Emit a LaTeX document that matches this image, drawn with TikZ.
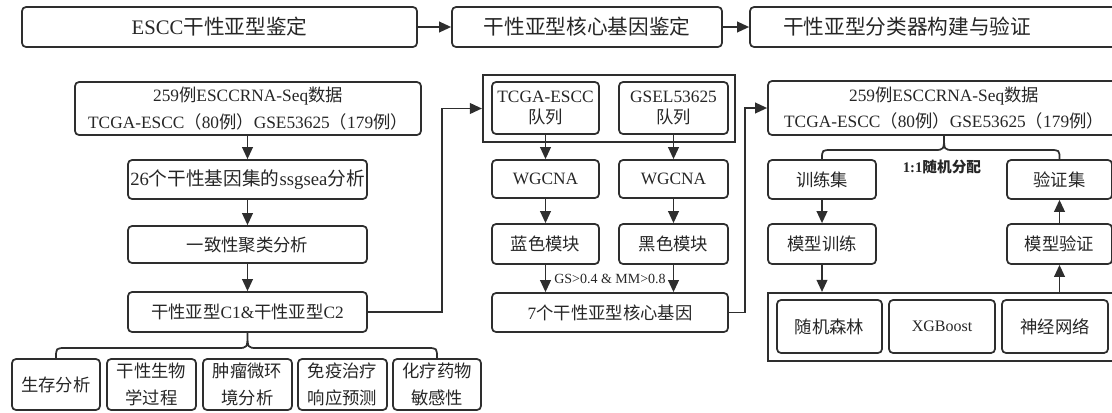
\documentclass[tikz,border=0pt]{standalone}
\usepackage{fontspec}
\setmainfont{Liberation Serif}
\newfontfamily\cjk{Noto Sans CJK SC}
\usetikzlibrary{arrows.meta}
\newcommand\zh[1]{{\cjk #1}}
\tikzset{
  ink/.style={draw=black!82},
  box/.style={ink, line width=1.3pt, rounded corners=3pt, inner sep=0pt, align=center, text=black!85},
  frame/.style={ink, line width=1.6pt, inner sep=0pt},
  sz/.style 2 args={minimum width=#1*0.75pt, minimum height=#2*0.75pt},
  arr/.style={ink, line width=1.3pt, -{Triangle[length=9pt,width=8pt]}},
  link/.style={ink, line width=1.3pt},
  big/.style={font=\fontsize{15.5}{18}\selectfont},
  mid/.style={font=\fontsize{13}{20}\selectfont},
  two/.style={font=\fontsize{13}{16}\selectfont},
}
\begin{document}
\begin{tikzpicture}[x=0.75pt,y=-0.75pt]
\path[use as bounding box, clip] (0,0) rectangle (1112,412);
% top row
\node[box,big,sz={395}{40}] (A) at (219.5,27) {ESCC\zh{干性亚型鉴定}};
\node[box,big,sz={270}{40}] (B) at (587,27) {\zh{干性亚型核心基因鉴定}};
\node[box,big,sz={370}{40}] (C) at (935,27) {\zh{干性亚型分类器构建与验证}\hspace*{42pt}};
\draw[arr] (A) -- (B);
\draw[arr] (B) -- (C);
% left column
\node[box,mid,sz={346}{53}] (D1) at (248,108.5) {259\zh{例}ESCCRNA-Seq\zh{数据}\\TCGA-ESCC\zh{（}80\zh{例）}GSE53625\zh{（}179\zh{例）}};
\node[box,font=\fontsize{14}{20}\selectfont,sz={239}{39}] (D2) at (247.5,179.5) {26\zh{个干性基因集的}ssgsea\zh{分析}};
\node[box,mid,sz={239}{37}] (D3) at (247.5,244.5) {\zh{一致性聚类分析}};
\node[box,mid,sz={239}{40}] (D4) at (247.5,312) {\zh{干性亚型}C1\&\zh{干性亚型}C2};
\draw[arr] (D2.north |- D1.south) -- (D2.north);
\draw[arr] (D2.south) -- (D3.north);
\draw[arr] (D3.south) -- (D4.north);
\node[box,mid,sz={88}{51}] (E1) at (56,384.5) {\zh{生存分析}};
\node[box,mid,sz={89}{51}] (E2) at (151.5,384.5) {\zh{干性生物}\\\zh{学过程}};
\node[box,mid,sz={89}{51}] (E3) at (247.5,384.5) {\zh{肿瘤微环}\\\zh{境分析}};
\node[box,mid,sz={89}{51}] (E4) at (342.5,384.5) {\zh{免疫治疗}\\\zh{响应预测}};
\node[box,mid,sz={88}{51}] (E5) at (437,384.5) {\zh{化疗药物}\\\zh{敏感性}};
\draw[link] (E1.north) .. controls (56,348) .. (66,348) -- (237.5,348) .. controls (247.5,348) .. (D4.south)
  .. controls (247.5,348) .. (257.5,348) -- (427,348) .. controls (437,348) .. (E5.north);
% middle column
\node[frame,sz={252}{67}] (M0) at (609,108.5) {};
\node[box,two,sz={107}{52}] (M1) at (545.5,108) {TCGA-ESCC\\\zh{队列}};
\node[box,two,sz={109}{52}] (M2) at (673.5,108) {GSEL53625\\\zh{队列}};
\node[box,mid,sz={107}{38}] (W1) at (545.5,179) {WGCNA};
\node[box,mid,sz={109}{38}] (W2) at (673.5,179) {WGCNA};
\node[box,mid,sz={107}{40}] (K1) at (545.5,244) {\zh{蓝色模块}};
\node[box,mid,sz={109}{40}] (K2) at (673.5,244) {\zh{黑色模块}};
\node[box,mid,sz={236}{39}] (G) at (610,312.5) {7\zh{个干性亚型核心基因}};
\draw[arr] (M1.south) -- (W1.north);
\draw[arr] (M2.south) -- (W2.north);
\draw[arr] (W1.south) -- (K1.north);
\draw[arr] (W2.south) -- (K2.north);
\draw[arr] (K1.south) -- (K1.south |- G.north);
\draw[arr] (K2.south) -- (K2.south |- G.north);
\node[font=\fontsize{10.5}{12}\selectfont, text=black!85, inner sep=0pt] (gs) at (610,279) {GS>0.4 \& MM>0.8};
\coordinate (j1) at (442,108.5);
\draw[arr] (D4.east) -| (j1) -- (M0.west);
% right column
\node[box,mid,sz={352}{54}] (R1) at (944,108) {259\zh{例}ESCCRNA-Seq\zh{数据}\\TCGA-ESCC\zh{（}80\zh{例）}GSE53625\zh{（}179\zh{例）}};
\coordinate (j2) at (745,108);
\draw[arr] (G.east) -| (j2) -- (j2 -| R1.west);
\node[box,mid,sz={108}{39}] (T1) at (822,179.5) {\zh{训练集}};
\node[box,mid,sz={105}{39}] (T2) at (1059.5,179.5) {\zh{验证集}};
\node[box,mid,sz={108}{40}] (T3) at (822,244) {\zh{模型训练}};
\node[box,mid,sz={105}{40}] (T4) at (1059.5,244) {\zh{模型验证}};
\draw[link] (T1.north) .. controls (822,150) .. (832,150) -- (934,150) .. controls (944,150) .. (R1.south)
  .. controls (944,150) .. (954,150) -- (1049.5,150) .. controls (1059.5,150) .. (T2.north);
\node[font=\fontsize{11}{12}\selectfont\bfseries, text=black!85, inner sep=0pt] (ratio) at (942,167) {1:1\zh{随机分配}};
\node[frame,sz={348}{68}] (R0) at (942,327) {};
\node[box,mid,sz={105}{53}] (X1) at (829.5,326.5) {\zh{随机森林}};
\node[box,font=\fontsize{12}{14}\selectfont,sz={106}{53}] (X2) at (942,326.5) {XGBoost};
\node[box,mid,sz={106}{53}] (X3) at (1055,326.5) {\zh{神经网络}};
\draw[arr] (T1.south) -- (T3.north);
\draw[arr] (T3.south) -- (T3.south |- R0.north);
\draw[arr] (T4.south |- R0.north) -- (T4.south);
\draw[arr] (T4.north) -- (T2.south);
\end{tikzpicture}
\end{document}
